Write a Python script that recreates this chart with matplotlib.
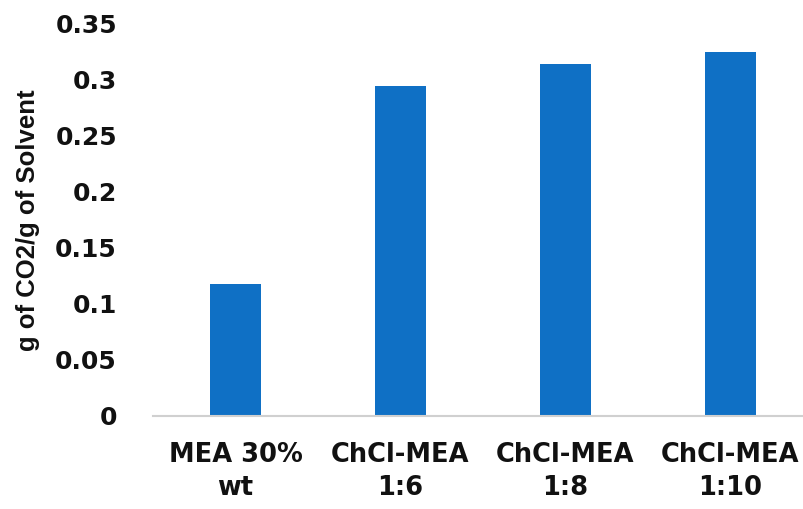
import matplotlib
matplotlib.use('Agg')
from matplotlib import pyplot as plt

# CO2 uptake per solvent
categorias = ['MEA 30%\nwt', 'ChCl-MEA\n1:6', 'ChCl-MEA\n1:8', 'ChCl-MEA\n1:10']
absorcao = [0.118, 0.294, 0.314, 0.325]
marcas_y = [0, 0.05, 0.1, 0.15, 0.2, 0.25, 0.3, 0.35]
rotulos_y = ['0', '0.05', '0.1', '0.15', '0.2', '0.25', '0.3', '0.35']

fig = plt.figure(figsize=(8.04, 5.09), dpi=100)
ax = fig.add_axes([153 / 804, (509 - 415.7) / 509, 660 / 804, 392 / 509])

ax.bar(range(len(categorias)), absorcao, width=0.315, color='#0F70C5')

ax.set_xlim(-0.5, len(categorias) - 0.5)
ax.set_ylim(0, 0.35)
ax.set_yticks(marcas_y)
ax.set_yticklabels(rotulos_y)
ax.set_xticks(range(len(categorias)))
ax.set_xticklabels(categorias, linespacing=1.35)

for lado in ['top', 'right', 'left']:
    ax.spines[lado].set_visible(False)
ax.spines['bottom'].set_color('#d0d0d0')
ax.spines['bottom'].set_linewidth(1.5)
ax.tick_params(axis='both', length=0)
ax.tick_params(axis='y', pad=26)
ax.tick_params(axis='x', pad=19)

for rotulo in ax.get_yticklabels():
    rotulo.set_fontsize(18)
for rotulo in ax.get_xticklabels():
    rotulo.set_fontsize(18.5)
for rotulo in ax.get_yticklabels() + ax.get_xticklabels():
    rotulo.set_fontfamily('DejaVu Sans')
    rotulo.set_fontweight('bold')
    rotulo.set_color('#111111')

fig.text(28 / 804, 1 - 220 / 509, 'g of CO2/g of Solvent', rotation=90,
         ha='center', va='center', fontsize=18.5, fontweight='bold',
         family='Liberation Sans', color='#111111')

plt.savefig('out.png')
